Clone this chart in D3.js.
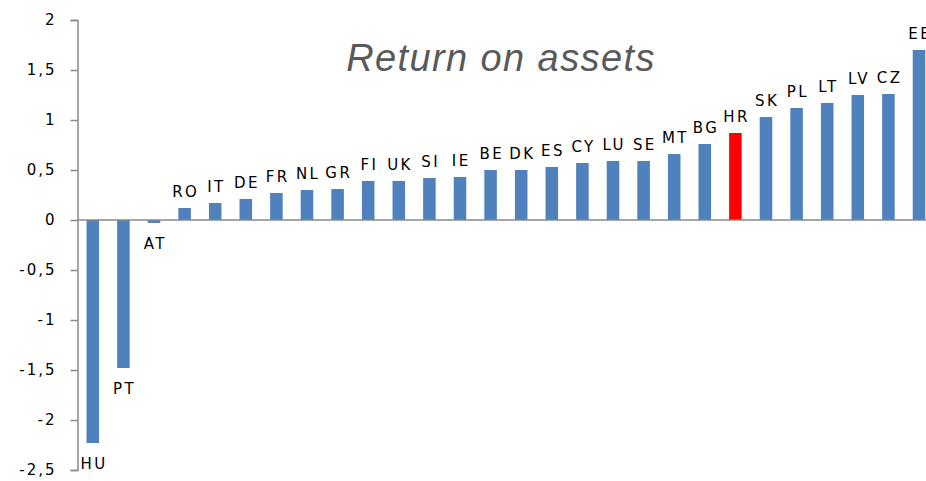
<!DOCTYPE html>
<html>
<head>
<meta charset="utf-8">
<script src="https://cdn.jsdelivr.net/npm/d3@7"></script>
<style>
  body { margin: 0; background: #fff; }
</style>
</head>
<body>
<div id="chart"></div>
<script>
var countries = ["HU", "PT", "AT", "RO", "IT", "DE", "FR", "NL", "GR", "FI",
                 "UK", "SI", "IE", "BE", "DK", "ES", "CY", "LU", "SE", "MT",
                 "BG", "HR", "SK", "PL", "LT", "LV", "CZ", "EE"];
var roa = [-2.23, -1.48, -0.03, 0.12, 0.17, 0.21, 0.27, 0.30, 0.31, 0.39,
           0.39, 0.42, 0.43, 0.50, 0.50, 0.53, 0.57, 0.59, 0.59, 0.66,
           0.76, 0.87, 1.03, 1.12, 1.17, 1.25, 1.26, 1.70];
var yTicks = [-2.5, -2, -1.5, -1, -0.5, 0, 0.5, 1, 1.5, 2];
var highlight = "HR";

var W = 926, H = 481,
  AXIS_X = 77.5,
  STEP = 30.6,
  BLUE = "#4f81bd",
  RED = "#ff0000",
  GRID_C = "#898989";

var svg = d3.select("#chart").append("svg")
  .attr("width", W)
  .attr("height", H);

var x = d3.scaleBand()
  .domain(countries)
  .range([AXIS_X, AXIS_X + STEP * countries.length])
  .paddingInner(0.59)
  .paddingOuter(0.295);

var y = d3.scaleLinear()
  .domain([-2.5, 2])
  .range([470, 20]);

// title
svg.append("text")
  .attr("x", 501)
  .attr("y", 71)
  .attr("text-anchor", "middle")
  .style("font-family", "'Liberation Sans', Arial, sans-serif")
  .style("font-style", "italic")
  .style("font-size", "38px")
  .style("letter-spacing", "1.4px")
  .style("fill", "#595959")
  .text("Return on assets");

// bars
svg.selectAll("rect.bar")
  .data(countries)
  .enter().append("rect")
  .attr("class", "bar")
  .attr("x", function(d) { return x(d); })
  .attr("width", x.bandwidth())
  .attr("y", function(d, i) { return y(Math.max(0, roa[i])); })
  .attr("height", function(d, i) { return Math.abs(y(roa[i]) - y(0)); })
  .style("fill", function(d) { return d === highlight ? RED : BLUE; });

// zero line
svg.append("line")
  .attr("x1", AXIS_X)
  .attr("x2", W)
  .attr("y1", y(0))
  .attr("y2", y(0))
  .style("stroke", GRID_C)
  .style("stroke-width", 1.5);

// y axis
var yAxis = d3.axisLeft(y)
  .tickValues(yTicks)
  .tickSize(7)
  .tickPadding(14)
  .tickFormat(function(d) { return String(d).replace(".", ","); });

var ya = svg.append("g")
  .attr("transform", "translate(" + AXIS_X + ",0)")
  .call(yAxis);
ya.select(".domain").style("stroke", GRID_C).style("stroke-width", 1.5);
ya.selectAll(".tick line").style("stroke", GRID_C).style("stroke-width", 1.5);
ya.selectAll(".tick text")
  .style("font-family", "'DejaVu Sans', sans-serif")
  .style("font-size", "15px")
  .style("letter-spacing", "2px")
  .style("fill", "#000");

// country labels
svg.selectAll("text.lbl")
  .data(countries)
  .enter().append("text")
  .attr("class", "lbl")
  .attr("x", function(d) { return x(d) + x.bandwidth() / 2 + 1.2; })
  .attr("y", function(d, i) {
    return roa[i] >= 0 ? y(roa[i]) - 11 : y(roa[i]) + 26;
  })
  .attr("text-anchor", "middle")
  .style("font-family", "'DejaVu Sans', sans-serif")
  .style("font-size", "15px")
  .style("letter-spacing", "2.4px")
  .style("fill", "#000")
  .text(function(d) { return d; });
</script>
</body>
</html>
